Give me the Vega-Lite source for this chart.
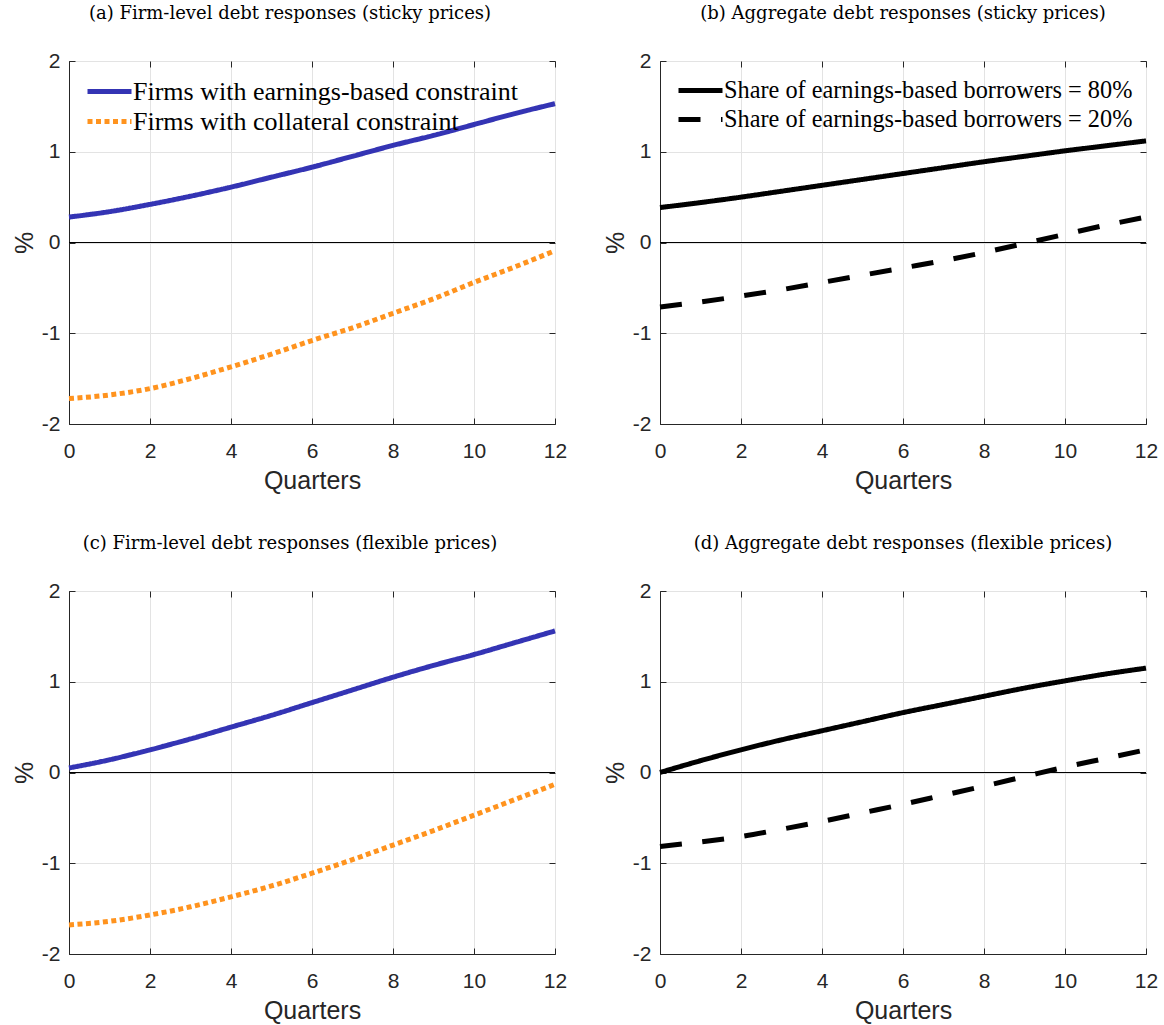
{
  "$schema": "https://vega.github.io/schema/vega-lite/v6.json",
  "background": "white",
  "padding": {"left": 11, "top": 4, "right": 5, "bottom": 5},
  "datasets": {
    "pts": [
      {"panel": "a", "series": "Firms with earnings-based constraint", "q": 0, "v": 0.28},
      {"panel": "a", "series": "Firms with earnings-based constraint", "q": 1, "v": 0.34},
      {"panel": "a", "series": "Firms with earnings-based constraint", "q": 2, "v": 0.42},
      {"panel": "a", "series": "Firms with earnings-based constraint", "q": 3, "v": 0.51},
      {"panel": "a", "series": "Firms with earnings-based constraint", "q": 4, "v": 0.61},
      {"panel": "a", "series": "Firms with earnings-based constraint", "q": 5, "v": 0.72},
      {"panel": "a", "series": "Firms with earnings-based constraint", "q": 6, "v": 0.83},
      {"panel": "a", "series": "Firms with earnings-based constraint", "q": 7, "v": 0.95},
      {"panel": "a", "series": "Firms with earnings-based constraint", "q": 8, "v": 1.07},
      {"panel": "a", "series": "Firms with earnings-based constraint", "q": 9, "v": 1.18},
      {"panel": "a", "series": "Firms with earnings-based constraint", "q": 10, "v": 1.3},
      {"panel": "a", "series": "Firms with earnings-based constraint", "q": 11, "v": 1.42},
      {"panel": "a", "series": "Firms with earnings-based constraint", "q": 12, "v": 1.53},
      {"panel": "a", "series": "Firms with collateral constraint", "q": 0, "v": -1.72},
      {"panel": "a", "series": "Firms with collateral constraint", "q": 1, "v": -1.68},
      {"panel": "a", "series": "Firms with collateral constraint", "q": 2, "v": -1.61},
      {"panel": "a", "series": "Firms with collateral constraint", "q": 3, "v": -1.5},
      {"panel": "a", "series": "Firms with collateral constraint", "q": 4, "v": -1.37},
      {"panel": "a", "series": "Firms with collateral constraint", "q": 5, "v": -1.23},
      {"panel": "a", "series": "Firms with collateral constraint", "q": 6, "v": -1.08},
      {"panel": "a", "series": "Firms with collateral constraint", "q": 7, "v": -0.94},
      {"panel": "a", "series": "Firms with collateral constraint", "q": 8, "v": -0.78},
      {"panel": "a", "series": "Firms with collateral constraint", "q": 9, "v": -0.62},
      {"panel": "a", "series": "Firms with collateral constraint", "q": 10, "v": -0.44},
      {"panel": "a", "series": "Firms with collateral constraint", "q": 11, "v": -0.27},
      {"panel": "a", "series": "Firms with collateral constraint", "q": 12, "v": -0.09},
      {"panel": "b", "series": "Share of earnings-based borrowers = 80%", "q": 0, "v": 0.385},
      {"panel": "b", "series": "Share of earnings-based borrowers = 80%", "q": 1, "v": 0.44},
      {"panel": "b", "series": "Share of earnings-based borrowers = 80%", "q": 2, "v": 0.5},
      {"panel": "b", "series": "Share of earnings-based borrowers = 80%", "q": 3, "v": 0.565},
      {"panel": "b", "series": "Share of earnings-based borrowers = 80%", "q": 4, "v": 0.63},
      {"panel": "b", "series": "Share of earnings-based borrowers = 80%", "q": 5, "v": 0.695},
      {"panel": "b", "series": "Share of earnings-based borrowers = 80%", "q": 6, "v": 0.76},
      {"panel": "b", "series": "Share of earnings-based borrowers = 80%", "q": 7, "v": 0.825},
      {"panel": "b", "series": "Share of earnings-based borrowers = 80%", "q": 8, "v": 0.89},
      {"panel": "b", "series": "Share of earnings-based borrowers = 80%", "q": 9, "v": 0.95},
      {"panel": "b", "series": "Share of earnings-based borrowers = 80%", "q": 10, "v": 1.01},
      {"panel": "b", "series": "Share of earnings-based borrowers = 80%", "q": 11, "v": 1.065},
      {"panel": "b", "series": "Share of earnings-based borrowers = 80%", "q": 12, "v": 1.12},
      {"panel": "b", "series": "Share of earnings-based borrowers = 20%", "q": 0, "v": -0.71},
      {"panel": "b", "series": "Share of earnings-based borrowers = 20%", "q": 1, "v": -0.655},
      {"panel": "b", "series": "Share of earnings-based borrowers = 20%", "q": 2, "v": -0.59},
      {"panel": "b", "series": "Share of earnings-based borrowers = 20%", "q": 3, "v": -0.52},
      {"panel": "b", "series": "Share of earnings-based borrowers = 20%", "q": 4, "v": -0.44},
      {"panel": "b", "series": "Share of earnings-based borrowers = 20%", "q": 5, "v": -0.36},
      {"panel": "b", "series": "Share of earnings-based borrowers = 20%", "q": 6, "v": -0.28},
      {"panel": "b", "series": "Share of earnings-based borrowers = 20%", "q": 7, "v": -0.2},
      {"panel": "b", "series": "Share of earnings-based borrowers = 20%", "q": 8, "v": -0.11},
      {"panel": "b", "series": "Share of earnings-based borrowers = 20%", "q": 9, "v": -0.01},
      {"panel": "b", "series": "Share of earnings-based borrowers = 20%", "q": 10, "v": 0.09},
      {"panel": "b", "series": "Share of earnings-based borrowers = 20%", "q": 11, "v": 0.19},
      {"panel": "b", "series": "Share of earnings-based borrowers = 20%", "q": 12, "v": 0.28},
      {"panel": "c", "series": "Firms with earnings-based constraint", "q": 0, "v": 0.05},
      {"panel": "c", "series": "Firms with earnings-based constraint", "q": 1, "v": 0.14},
      {"panel": "c", "series": "Firms with earnings-based constraint", "q": 2, "v": 0.25},
      {"panel": "c", "series": "Firms with earnings-based constraint", "q": 3, "v": 0.37},
      {"panel": "c", "series": "Firms with earnings-based constraint", "q": 4, "v": 0.5},
      {"panel": "c", "series": "Firms with earnings-based constraint", "q": 5, "v": 0.63},
      {"panel": "c", "series": "Firms with earnings-based constraint", "q": 6, "v": 0.77},
      {"panel": "c", "series": "Firms with earnings-based constraint", "q": 7, "v": 0.91},
      {"panel": "c", "series": "Firms with earnings-based constraint", "q": 8, "v": 1.05},
      {"panel": "c", "series": "Firms with earnings-based constraint", "q": 9, "v": 1.18},
      {"panel": "c", "series": "Firms with earnings-based constraint", "q": 10, "v": 1.3},
      {"panel": "c", "series": "Firms with earnings-based constraint", "q": 11, "v": 1.43},
      {"panel": "c", "series": "Firms with earnings-based constraint", "q": 12, "v": 1.56},
      {"panel": "c", "series": "Firms with collateral constraint", "q": 0, "v": -1.68},
      {"panel": "c", "series": "Firms with collateral constraint", "q": 1, "v": -1.64},
      {"panel": "c", "series": "Firms with collateral constraint", "q": 2, "v": -1.57},
      {"panel": "c", "series": "Firms with collateral constraint", "q": 3, "v": -1.48},
      {"panel": "c", "series": "Firms with collateral constraint", "q": 4, "v": -1.37},
      {"panel": "c", "series": "Firms with collateral constraint", "q": 5, "v": -1.25},
      {"panel": "c", "series": "Firms with collateral constraint", "q": 6, "v": -1.11},
      {"panel": "c", "series": "Firms with collateral constraint", "q": 7, "v": -0.96},
      {"panel": "c", "series": "Firms with collateral constraint", "q": 8, "v": -0.8},
      {"panel": "c", "series": "Firms with collateral constraint", "q": 9, "v": -0.64},
      {"panel": "c", "series": "Firms with collateral constraint", "q": 10, "v": -0.47},
      {"panel": "c", "series": "Firms with collateral constraint", "q": 11, "v": -0.3},
      {"panel": "c", "series": "Firms with collateral constraint", "q": 12, "v": -0.13},
      {"panel": "d", "series": "Share of earnings-based borrowers = 80%", "q": 0, "v": 0.0},
      {"panel": "d", "series": "Share of earnings-based borrowers = 80%", "q": 1, "v": 0.13},
      {"panel": "d", "series": "Share of earnings-based borrowers = 80%", "q": 2, "v": 0.25},
      {"panel": "d", "series": "Share of earnings-based borrowers = 80%", "q": 3, "v": 0.36},
      {"panel": "d", "series": "Share of earnings-based borrowers = 80%", "q": 4, "v": 0.46},
      {"panel": "d", "series": "Share of earnings-based borrowers = 80%", "q": 5, "v": 0.56},
      {"panel": "d", "series": "Share of earnings-based borrowers = 80%", "q": 6, "v": 0.66},
      {"panel": "d", "series": "Share of earnings-based borrowers = 80%", "q": 7, "v": 0.75},
      {"panel": "d", "series": "Share of earnings-based borrowers = 80%", "q": 8, "v": 0.84},
      {"panel": "d", "series": "Share of earnings-based borrowers = 80%", "q": 9, "v": 0.93},
      {"panel": "d", "series": "Share of earnings-based borrowers = 80%", "q": 10, "v": 1.01},
      {"panel": "d", "series": "Share of earnings-based borrowers = 80%", "q": 11, "v": 1.085},
      {"panel": "d", "series": "Share of earnings-based borrowers = 80%", "q": 12, "v": 1.15},
      {"panel": "d", "series": "Share of earnings-based borrowers = 20%", "q": 0, "v": -0.815},
      {"panel": "d", "series": "Share of earnings-based borrowers = 20%", "q": 1, "v": -0.765},
      {"panel": "d", "series": "Share of earnings-based borrowers = 20%", "q": 2, "v": -0.705},
      {"panel": "d", "series": "Share of earnings-based borrowers = 20%", "q": 3, "v": -0.625},
      {"panel": "d", "series": "Share of earnings-based borrowers = 20%", "q": 4, "v": -0.54},
      {"panel": "d", "series": "Share of earnings-based borrowers = 20%", "q": 5, "v": -0.445},
      {"panel": "d", "series": "Share of earnings-based borrowers = 20%", "q": 6, "v": -0.35},
      {"panel": "d", "series": "Share of earnings-based borrowers = 20%", "q": 7, "v": -0.25},
      {"panel": "d", "series": "Share of earnings-based borrowers = 20%", "q": 8, "v": -0.15},
      {"panel": "d", "series": "Share of earnings-based borrowers = 20%", "q": 9, "v": -0.045},
      {"panel": "d", "series": "Share of earnings-based borrowers = 20%", "q": 10, "v": 0.06},
      {"panel": "d", "series": "Share of earnings-based borrowers = 20%", "q": 11, "v": 0.155},
      {"panel": "d", "series": "Share of earnings-based borrowers = 20%", "q": 12, "v": 0.25}
    ]
  },
  "data": {"name": "pts"},
  "columns": 2,
  "spacing": {"row": 167, "column": 105},
  "bounds": "flush",
  "concat": [
    {
      "width": 486, "height": 363,
      "title": {"text": "(a) Firm-level debt responses (sticky prices)", "dx": -22},
      "transform": [{"filter": "datum.panel === 'a'"}],
      "layer": [
        {"mark": {"type": "rule", "color": "black", "strokeWidth": 1.2}, "encoding": {"y": {"datum": 0, "type": "quantitative", "axis": null}}},
        {"mark": {"type": "line", "strokeWidth": 5, "strokeCap": "butt", "interpolate": "monotone"},
         "encoding": {
           "x": {"field": "q", "type": "quantitative", "scale": {"domain": [0, 12], "nice": false}, "axis": {"title": "Quarters", "values": [0, 2, 4, 6, 8, 10, 12], "grid": true}},
           "y": {"field": "v", "type": "quantitative", "scale": {"domain": [-2, 2], "nice": false}, "axis": {"title": "%", "values": [-2, -1, 0, 1, 2], "grid": true}},
           "color": {"field": "series", "type": "nominal", "sort": null, "scale": {"domain": ["Firms with earnings-based constraint", "Firms with collateral constraint"], "range": ["#3434b4", "#ff931e"]}, "legend": {"orient": "none", "legendX": 16, "legendY": 17}},
           "strokeDash": {"field": "series", "type": "nominal", "sort": null, "scale": {"domain": ["Firms with earnings-based constraint", "Firms with collateral constraint"], "range": [[1, 0], [5, 3.5]]}, "legend": {"orient": "none", "legendX": 16, "legendY": 17}}
         }},
        {"mark": {"type": "line", "opacity": 0},
         "encoding": {
           "x": {"field": "q", "type": "quantitative", "axis": {"orient": "top", "labels": false, "title": null, "grid": false, "domain": false, "values": [0, 2, 4, 6, 8, 10, 12]}},
           "y": {"field": "v", "type": "quantitative", "axis": {"orient": "right", "labels": false, "title": null, "grid": false, "domain": false, "values": [-2, -1, 0, 1, 2]}}
         }}
      ],
      "resolve": {"axis": {"x": "independent", "y": "independent"}}
    },
    {
      "width": 486, "height": 363,
      "title": {"text": "(b) Aggregate debt responses (sticky prices)"},
      "transform": [{"filter": "datum.panel === 'b'"}],
      "layer": [
        {"mark": {"type": "rule", "color": "black", "strokeWidth": 1.2}, "encoding": {"y": {"datum": 0, "type": "quantitative", "axis": null}}},
        {"mark": {"type": "line", "strokeWidth": 5, "strokeCap": "butt", "interpolate": "monotone"},
         "encoding": {
           "x": {"field": "q", "type": "quantitative", "scale": {"domain": [0, 12], "nice": false}, "axis": {"title": "Quarters", "values": [0, 2, 4, 6, 8, 10, 12], "grid": true}},
           "y": {"field": "v", "type": "quantitative", "scale": {"domain": [-2, 2], "nice": false}, "axis": {"title": "%", "values": [-2, -1, 0, 1, 2], "grid": true}},
           "color": {"field": "series", "type": "nominal", "sort": null, "scale": {"domain": ["Share of earnings-based borrowers = 80%", "Share of earnings-based borrowers = 20%"], "range": ["#000000", "#000000"]}, "legend": {"orient": "none", "legendX": 16, "legendY": 16, "labelFontSize": 24.3}},
           "strokeDash": {"field": "series", "type": "nominal", "sort": null, "scale": {"domain": ["Share of earnings-based borrowers = 80%", "Share of earnings-based borrowers = 20%"], "range": [[1, 0], [22, 20.5]]}, "legend": {"orient": "none", "legendX": 16, "legendY": 16, "labelFontSize": 24.3}}
         }},
        {"mark": {"type": "line", "opacity": 0},
         "encoding": {
           "x": {"field": "q", "type": "quantitative", "axis": {"orient": "top", "labels": false, "title": null, "grid": false, "domain": false, "values": [0, 2, 4, 6, 8, 10, 12]}},
           "y": {"field": "v", "type": "quantitative", "axis": {"orient": "right", "labels": false, "title": null, "grid": false, "domain": false, "values": [-2, -1, 0, 1, 2]}}
         }}
      ],
      "resolve": {"axis": {"x": "independent", "y": "independent"}}
    },
    {
      "width": 486, "height": 363,
      "title": {"text": "(c) Firm-level debt responses (flexible prices)", "dx": -22},
      "transform": [{"filter": "datum.panel === 'c'"}],
      "layer": [
        {"mark": {"type": "rule", "color": "black", "strokeWidth": 1.2}, "encoding": {"y": {"datum": 0, "type": "quantitative", "axis": null}}},
        {"mark": {"type": "line", "strokeWidth": 5, "strokeCap": "butt", "interpolate": "monotone"},
         "encoding": {
           "x": {"field": "q", "type": "quantitative", "scale": {"domain": [0, 12], "nice": false}, "axis": {"title": "Quarters", "values": [0, 2, 4, 6, 8, 10, 12], "grid": true}},
           "y": {"field": "v", "type": "quantitative", "scale": {"domain": [-2, 2], "nice": false}, "axis": {"title": "%", "values": [-2, -1, 0, 1, 2], "grid": true}},
           "color": {"field": "series", "type": "nominal", "sort": null, "scale": {"domain": ["Firms with earnings-based constraint", "Firms with collateral constraint"], "range": ["#3434b4", "#ff931e"]}, "legend": null},
           "strokeDash": {"field": "series", "type": "nominal", "sort": null, "scale": {"domain": ["Firms with earnings-based constraint", "Firms with collateral constraint"], "range": [[1, 0], [5, 3.5]]}, "legend": null}
         }},
        {"mark": {"type": "line", "opacity": 0},
         "encoding": {
           "x": {"field": "q", "type": "quantitative", "axis": {"orient": "top", "labels": false, "title": null, "grid": false, "domain": false, "values": [0, 2, 4, 6, 8, 10, 12]}},
           "y": {"field": "v", "type": "quantitative", "axis": {"orient": "right", "labels": false, "title": null, "grid": false, "domain": false, "values": [-2, -1, 0, 1, 2]}}
         }}
      ],
      "resolve": {"axis": {"x": "independent", "y": "independent"}}
    },
    {
      "width": 486, "height": 363,
      "title": {"text": "(d) Aggregate debt responses (flexible prices)"},
      "transform": [{"filter": "datum.panel === 'd'"}],
      "layer": [
        {"mark": {"type": "rule", "color": "black", "strokeWidth": 1.2}, "encoding": {"y": {"datum": 0, "type": "quantitative", "axis": null}}},
        {"mark": {"type": "line", "strokeWidth": 5, "strokeCap": "butt", "interpolate": "monotone"},
         "encoding": {
           "x": {"field": "q", "type": "quantitative", "scale": {"domain": [0, 12], "nice": false}, "axis": {"title": "Quarters", "values": [0, 2, 4, 6, 8, 10, 12], "grid": true}},
           "y": {"field": "v", "type": "quantitative", "scale": {"domain": [-2, 2], "nice": false}, "axis": {"title": "%", "values": [-2, -1, 0, 1, 2], "grid": true}},
           "color": {"field": "series", "type": "nominal", "sort": null, "scale": {"domain": ["Share of earnings-based borrowers = 80%", "Share of earnings-based borrowers = 20%"], "range": ["#000000", "#000000"]}, "legend": null},
           "strokeDash": {"field": "series", "type": "nominal", "sort": null, "scale": {"domain": ["Share of earnings-based borrowers = 80%", "Share of earnings-based borrowers = 20%"], "range": [[1, 0], [22, 20.5]]}, "legend": null}
         }},
        {"mark": {"type": "line", "opacity": 0},
         "encoding": {
           "x": {"field": "q", "type": "quantitative", "axis": {"orient": "top", "labels": false, "title": null, "grid": false, "domain": false, "values": [0, 2, 4, 6, 8, 10, 12]}},
           "y": {"field": "v", "type": "quantitative", "axis": {"orient": "right", "labels": false, "title": null, "grid": false, "domain": false, "values": [-2, -1, 0, 1, 2]}}
         }}
      ],
      "resolve": {"axis": {"x": "independent", "y": "independent"}}
    }
  ],
  "resolve": {"scale": {"color": "independent", "strokeDash": "independent"}, "legend": {"color": "independent", "strokeDash": "independent"}},
  "config": {
    "view": {"stroke": "#262626", "strokeWidth": 1},
    "axis": {
      "labelFont": "Liberation Sans", "labelFontSize": 21, "labelColor": "#262626",
      "labelExpr": "replace(datum.label, '\u2212', '-')",
      "titleFont": "Liberation Sans", "titleFontSize": 25, "titleFontWeight": "normal", "titleColor": "#262626",
      "gridColor": "#e3e3e3", "gridWidth": 1, "gridOpacity": 1,
      "domainColor": "#262626", "domainWidth": 1,
      "tickColor": "#262626", "tickSize": -6, "tickWidth": 1,
      "labelPadding": 15, "labelOverlap": false, "labelFlush": false
    },
    "axisX": {"labelPadding": 22, "titlePadding": 7},
    "axisY": {"titlePadding": 4},
    "title": {"font": "DejaVu Serif", "fontSize": 18, "fontWeight": "normal", "color": "#000000", "offset": 27, "anchor": "middle"},
    "legend": {
      "title": null, "padding": 0, "symbolType": "M-1,0H3", "symbolSize": 484, "symbolStrokeWidth": 5,
      "labelFont": "Liberation Serif", "labelFontSize": 26, "labelColor": "#000000", "labelLimit": 700,
      "labelOffset": 21, "rowPadding": 3, "symbolOffset": 0
    }
  }
}
